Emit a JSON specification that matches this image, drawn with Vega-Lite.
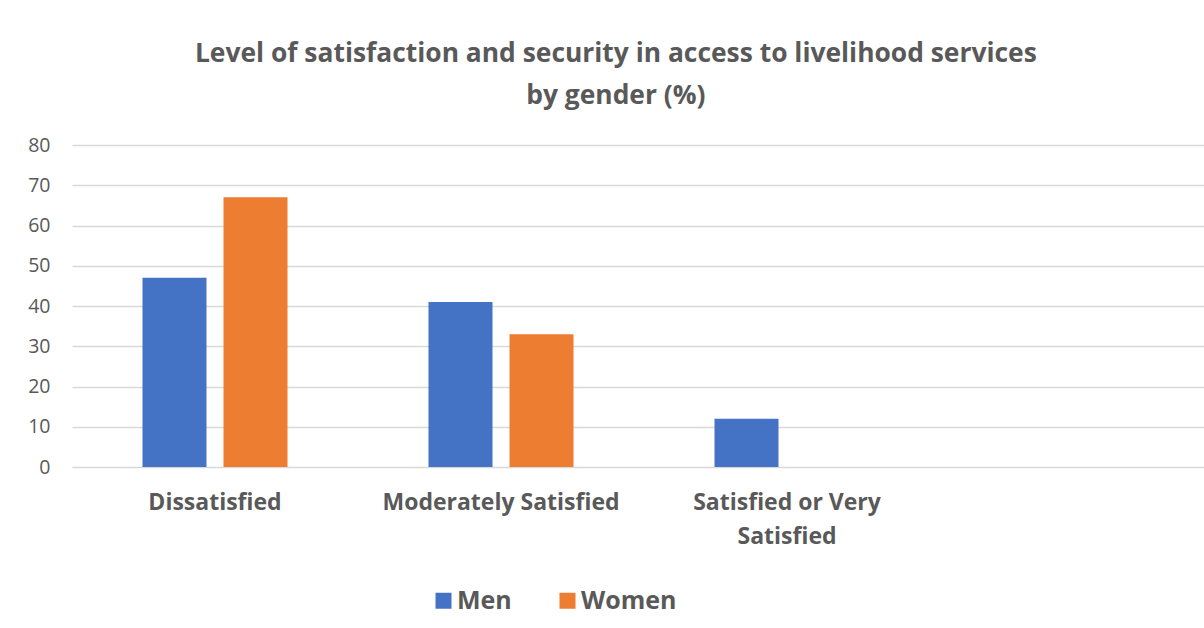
{
  "$schema": "https://vega.github.io/schema/vega-lite/v6.json",
  "autosize": "none",
  "width": 1132,
  "height": 322,
  "padding": {"left": 72, "top": 145, "right": 0, "bottom": 161},
  "background": "white",
  "title": {
    "text": ["Level of satisfaction and security in access to livelihood services", "by gender (%)"],
    "font": "Open Sans",
    "fontSize": 26.4,
    "fontWeight": "bold",
    "color": "#595959",
    "lineHeight": 42,
    "anchor": "middle",
    "frame": "bounds",
    "offset": 26
  },
  "data": {
    "values": [
      {"level": "Dissatisfied", "gender": "Men", "pct": 47},
      {"level": "Dissatisfied", "gender": "Women", "pct": 67},
      {"level": "Moderately Satisfied", "gender": "Men", "pct": 41},
      {"level": "Moderately Satisfied", "gender": "Women", "pct": 33},
      {"level": "Satisfied or Very Satisfied", "gender": "Men", "pct": 12},
      {"level": "Satisfied or Very Satisfied", "gender": "Women", "pct": 0}
    ]
  },
  "mark": {"type": "bar"},
  "encoding": {
    "x": {
      "field": "level",
      "type": "nominal",
      "sort": ["Dissatisfied", "Moderately Satisfied", "Satisfied or Very Satisfied"],
      "scale": {"paddingInner": 0, "paddingOuter": 0.479, "align": 0},
      "axis": {
        "title": null,
        "labelAngle": 0,
        "labelFont": "Open Sans",
        "labelFontSize": 23,
        "labelFontWeight": "bold",
        "labelColor": "#595959",
        "labelPadding": 24,
        "labelLineHeight": 34,
        "labelLimit": 400,
        "labelExpr": "datum.label == 'Satisfied or Very Satisfied' ? ['Satisfied or Very', 'Satisfied'] : datum.label",
        "ticks": false,
        "domainColor": "#d9d9d9",
        "domainWidth": 1,
        "grid": false
      }
    },
    "xOffset": {
      "field": "gender",
      "type": "nominal",
      "scale": {"paddingInner": 0.21, "paddingOuter": 0.87}
    },
    "y": {
      "field": "pct",
      "type": "quantitative",
      "scale": {"domain": [0, 80]},
      "axis": {
        "title": null,
        "values": [0, 10, 20, 30, 40, 50, 60, 70, 80],
        "labelFont": "Open Sans",
        "labelFontSize": 19.5,
        "labelColor": "#595959",
        "labelPadding": 22,
        "ticks": false,
        "domain": false,
        "gridColor": "#d9d9d9",
        "gridWidth": 1.3
      }
    },
    "color": {
      "field": "gender",
      "type": "nominal",
      "scale": {"domain": ["Men", "Women"], "range": ["#4472C4", "#ED7D31"]},
      "legend": {
        "title": null,
        "orient": "none",
        "direction": "horizontal",
        "legendX": 359,
        "legendY": 443,
        "symbolType": "square",
        "symbolSize": 256,
        "symbolStrokeWidth": 0,
        "labelFont": "Open Sans",
        "labelFontSize": 25,
        "labelFontWeight": "bold",
        "labelColor": "#595959",
        "labelOffset": 1,
        "columnPadding": 43
      }
    }
  },
  "config": {
    "view": {"stroke": null}
  }
}
